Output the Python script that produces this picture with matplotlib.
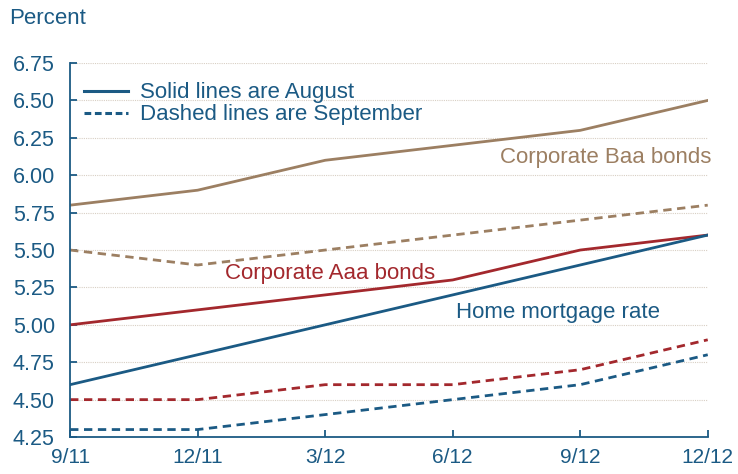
import matplotlib
matplotlib.use("Agg")
import matplotlib.pyplot as plt
from matplotlib.lines import Line2D
import numpy as np

plt.rcParams['font.family'] = ['Liberation Sans', 'DejaVu Sans']

# data
quarters = ['9/11', '12/11', '3/12', '6/12', '9/12', '12/12']
baa_aug = [5.80, 5.90, 6.10, 6.20, 6.30, 6.50]
baa_sep = [5.50, 5.40, 5.50, 5.60, 5.70, 5.80]
aaa_aug = [5.00, 5.10, 5.20, 5.30, 5.50, 5.60]
aaa_sep = [4.50, 4.50, 4.60, 4.60, 4.70, 4.90]
mort_aug = [4.60, 4.80, 5.00, 5.20, 5.40, 5.60]
mort_sep = [4.30, 4.30, 4.40, 4.50, 4.60, 4.80]
yticks = [4.25, 4.50, 4.75, 5.00, 5.25, 5.50, 5.75, 6.00, 6.25, 6.50, 6.75]

blue = '#1b5a84'
red = '#a3282d'
tan = '#9c7f62'
grid_c = '#d8cfc4'

fig = plt.figure(figsize=(7.38, 4.74), dpi=100)
ax = fig.add_axes([0.095, 0.078, 0.864, 0.789])

x = np.arange(len(quarters))
lw = 2.0
dash = (0, (3, 2))
ax.plot(x, baa_aug, color=tan, lw=lw)
ax.plot(x, baa_sep, color=tan, lw=lw, ls=dash)
ax.plot(x, aaa_aug, color=red, lw=lw)
ax.plot(x, aaa_sep, color=red, lw=lw, ls=dash)
ax.plot(x, mort_aug, color=blue, lw=lw)
ax.plot(x, mort_sep, color=blue, lw=lw, ls=dash)

ax.set_xlim(0, len(quarters) - 1)
ax.set_ylim(4.25, 6.75)
ax.set_yticks(yticks)
ax.set_yticklabels(['{:.2f}'.format(v) for v in yticks])
ax.set_xticks(x)
ax.set_xticklabels(quarters)

for v in yticks[1:]:
    ax.axhline(v, color=grid_c, lw=0.8, ls=(0, (1, 1)), zorder=0)

for s in ['top', 'right']:
    ax.spines[s].set_visible(False)
for s in ['left', 'bottom']:
    ax.spines[s].set_color(blue)
    ax.spines[s].set_linewidth(1.3)

ax.tick_params(axis='both', direction='in', colors=blue, labelcolor=blue,
               labelsize=15.5, length=5, width=1.3)
ax.tick_params(axis='x', pad=8, labelsize=15)
ax.tick_params(axis='y', pad=11)

fig.text(0.012, 0.938, 'Percent', color=blue, fontsize=16, va='bottom')

handles = [Line2D([], [], color=blue, lw=2.2),
           Line2D([], [], color=blue, lw=2.2, ls=(0, (2.2, 1.2)))]
ax.legend(handles, ['Solid lines are August', 'Dashed lines are September'],
          loc='upper left', bbox_to_anchor=(-0.003, 0.99), frameon=False,
          fontsize=16, labelcolor=blue, handlelength=2.0, handletextpad=0.55,
          labelspacing=0.05, borderaxespad=0.3)

ax.text(5.03, 6.12, 'Corporate Baa bonds', color=tan, fontsize=16, ha='right', va='center')
ax.text(1.215, 5.34, 'Corporate Aaa bonds', color=red, fontsize=16, ha='left', va='center')
ax.text(3.025, 5.08, 'Home mortgage rate', color=blue, fontsize=16, ha='left', va='center')

fig.savefig('out.png', dpi=100)
